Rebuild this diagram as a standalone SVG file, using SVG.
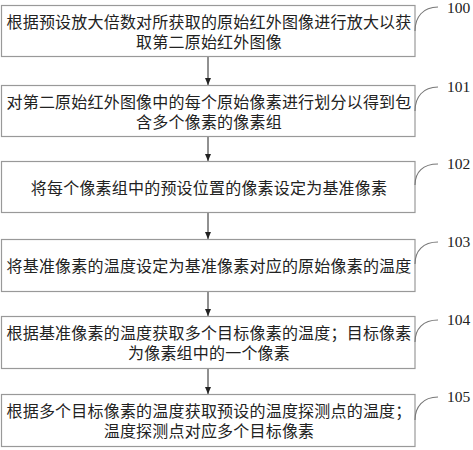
<svg xmlns="http://www.w3.org/2000/svg" width="473" height="450" viewBox="0 0 473 450">
<style>
.box{fill:#fff;stroke:#999;stroke-width:1.2}
.t{font-family:"Liberation Serif","Noto Sans CJK SC","Noto Sans CJK JP",serif;font-size:16px;fill:#222;text-anchor:middle;letter-spacing:0.2px}
.lbl{font-family:"Liberation Serif",serif;font-size:15.5px;fill:#222}
.cv{fill:none;stroke:#777;stroke-width:1.1}
.ar{stroke:#222;stroke-width:1;fill:none}
</style>
<defs>
<marker id="ah" markerWidth="8" markerHeight="8" refX="7" refY="4" orient="auto" markerUnits="userSpaceOnUse">
<path d="M0,1 L7,4 L0,7 Z" fill="#222"/>
</marker>
</defs>
<rect width="473" height="450" fill="#fff"/>
<g id="connectors">
<line class="ar" x1="208" y1="57" x2="208" y2="85" marker-end="url(#ah)"/>
<line class="ar" x1="208" y1="136" x2="208" y2="161" marker-end="url(#ah)"/>
<line class="ar" x1="208" y1="213" x2="208" y2="239" marker-end="url(#ah)"/>
<line class="ar" x1="208" y1="292" x2="208" y2="316" marker-end="url(#ah)"/>
<line class="ar" x1="208" y1="369" x2="208" y2="394" marker-end="url(#ah)"/>
</g>
<g id="n100">
<rect class="box" x="1.5" y="5.5" width="413.5" height="51"/>
<text class="t" x="209" y="28">根据预设放大倍数对所获取的原始红外图像进行放大以获</text>
<text class="t" x="209" y="47.5">取第二原始红外图像</text>
<path class="cv" d="M415,31 C415,17 423,7 438,7"/>
<text class="lbl" x="447" y="13">100</text>
</g>
<g id="n101">
<rect class="box" x="1.5" y="85.5" width="413.5" height="51"/>
<text class="t" x="209" y="108">对第二原始红外图像中的每个原始像素进行划分以得到包</text>
<text class="t" x="209" y="127.5">含多个像素的像素组</text>
<path class="cv" d="M415,111 C415,97 423,87 438,87"/>
<text class="lbl" x="447" y="92">101</text>
</g>
<g id="n102">
<rect class="box" x="1.5" y="161.5" width="413.5" height="51"/>
<text class="t" x="209" y="194">将每个像素组中的预设位置的像素设定为基准像素</text>
<path class="cv" d="M415,185 C415,172 423,164 438,164"/>
<text class="lbl" x="447" y="169">102</text>
</g>
<g id="n103">
<rect class="box" x="1.5" y="239.5" width="413.5" height="52"/>
<text class="t" x="209" y="272">将基准像素的温度设定为基准像素对应的原始像素的温度</text>
<path class="cv" d="M415,264 C415,251 423,242 438,242"/>
<text class="lbl" x="447" y="247">103</text>
</g>
<g id="n104">
<rect class="box" x="1.5" y="316.5" width="413.5" height="52"/>
<text class="t" x="209" y="339">根据基准像素的温度获取多个目标像素的温度；目标像素</text>
<text class="t" x="209" y="358.5">为像素组中的一个像素</text>
<path class="cv" d="M415,342 C415,329 423,320 438,320"/>
<text class="lbl" x="447" y="325">104</text>
</g>
<g id="n105">
<rect class="box" x="1.5" y="394.5" width="413.5" height="52"/>
<text class="t" x="209" y="417">根据多个目标像素的温度获取预设的温度探测点的温度；</text>
<text class="t" x="209" y="436.5">温度探测点对应多个目标像素</text>
<path class="cv" d="M415,420 C415,407 423,397 438,397"/>
<text class="lbl" x="447" y="402">105</text>
</g>
</svg>
